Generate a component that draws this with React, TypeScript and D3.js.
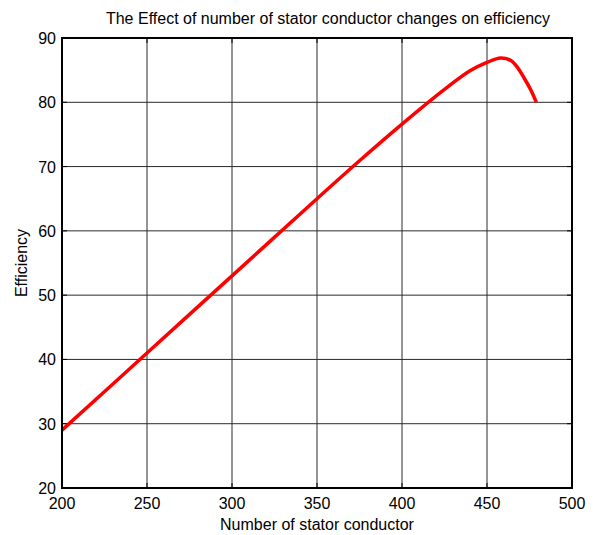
import React, { useEffect, useRef } from 'react';
import * as d3 from 'd3';

// conductors vs efficiency
const conductors = [200, 250, 300, 350, 375, 400, 425, 440, 450, 458, 464, 468, 472, 476, 479];
const efficiency = [29.0, 41.0, 53.0, 65.0, 70.9, 76.6, 82.0, 84.9, 86.2, 86.9, 86.5, 85.4, 83.7, 81.8, 80.0];

const xTicks = [200, 250, 300, 350, 400, 450, 500];
const yTicks = [20, 30, 40, 50, 60, 70, 80, 90];

const title = 'The Effect of number of stator conductor changes on efficiency';
const xLabel = 'Number of stator conductor';
const yLabel = 'Efficiency';

const App: React.FC = () => {
  const ref = useRef<SVGSVGElement | null>(null);

  useEffect(() => {
    const svg = d3.select(ref.current);
    svg.selectAll('*').remove();

    const left = 62, right = 572, top = 38, bottom = 488;
    const font = 'Liberation Sans, Arial, sans-serif';

    const x = d3.scaleLinear().domain([200, 500]).range([left, right]);
    const y = d3.scaleLinear().domain([20, 90]).range([bottom, top]);

    svg.append('rect')
      .attr('x', 0).attr('y', 0)
      .attr('width', 597).attr('height', 535)
      .attr('fill', '#fff');

    // grid
    const grid = svg.append('g').attr('stroke', '#2a2a2a').attr('stroke-width', 1);
    grid.selectAll('.gx')
      .data(xTicks.slice(1, -1))
      .enter().append('line')
      .attr('x1', (d) => x(d)).attr('x2', (d) => x(d))
      .attr('y1', top).attr('y2', bottom);
    grid.selectAll('.gy')
      .data(yTicks.slice(1, -1))
      .enter().append('line')
      .attr('x1', left).attr('x2', right)
      .attr('y1', (d) => y(d)).attr('y2', (d) => y(d));

    // inward ticks on all sides
    const tk = 5;
    const ticks = svg.append('g').attr('stroke', '#000').attr('stroke-width', 1);
    xTicks.forEach((t) => {
      ticks.append('line').attr('x1', x(t)).attr('x2', x(t)).attr('y1', bottom).attr('y2', bottom - tk);
      ticks.append('line').attr('x1', x(t)).attr('x2', x(t)).attr('y1', top).attr('y2', top + tk);
    });
    yTicks.forEach((t) => {
      ticks.append('line').attr('x1', left).attr('x2', left + tk).attr('y1', y(t)).attr('y2', y(t));
      ticks.append('line').attr('x1', right).attr('x2', right - tk).attr('y1', y(t)).attr('y2', y(t));
    });

    // curve
    const line = d3.line<number>()
      .x((_, i) => x(conductors[i]))
      .y((d) => y(d))
      .curve(d3.curveCatmullRom.alpha(0.5));
    svg.append('path')
      .datum(efficiency)
      .attr('d', line)
      .attr('fill', 'none')
      .attr('stroke', '#ff0000')
      .attr('stroke-width', 3.5)
      .attr('stroke-linejoin', 'round');

    // frame
    svg.append('rect')
      .attr('x', left).attr('y', top)
      .attr('width', right - left).attr('height', bottom - top)
      .attr('fill', 'none')
      .attr('stroke', '#000')
      .attr('stroke-width', 2);

    // tick labels
    svg.selectAll('.xl')
      .data(xTicks)
      .enter().append('text')
      .attr('x', (d) => x(d))
      .attr('y', bottom + 21)
      .attr('text-anchor', 'middle')
      .attr('font-family', font)
      .attr('font-size', 16)
      .text((d) => d);
    svg.selectAll('.yl')
      .data(yTicks)
      .enter().append('text')
      .attr('x', left - 6)
      .attr('y', (d) => y(d) + 6)
      .attr('text-anchor', 'end')
      .attr('font-family', font)
      .attr('font-size', 16)
      .text((d) => d);

    svg.append('text')
      .attr('x', (left + right) / 2 + 11)
      .attr('y', 24)
      .attr('text-anchor', 'middle')
      .attr('font-family', font)
      .attr('font-size', 16)
      .text(title);

    svg.append('text')
      .attr('x', (left + right) / 2)
      .attr('y', 530)
      .attr('text-anchor', 'middle')
      .attr('font-family', font)
      .attr('font-size', 16)
      .text(xLabel);

    svg.append('text')
      .attr('transform', `translate(27,${(top + bottom) / 2}) rotate(-90)`)
      .attr('text-anchor', 'middle')
      .attr('font-family', font)
      .attr('font-size', 16)
      .text(yLabel);
  }, []);

  return (
    <svg
      ref={ref}
      width={597}
      height={535}
      style={{ position: 'absolute', left: 0, top: 0 }}
    />
  );
};

export default App;
